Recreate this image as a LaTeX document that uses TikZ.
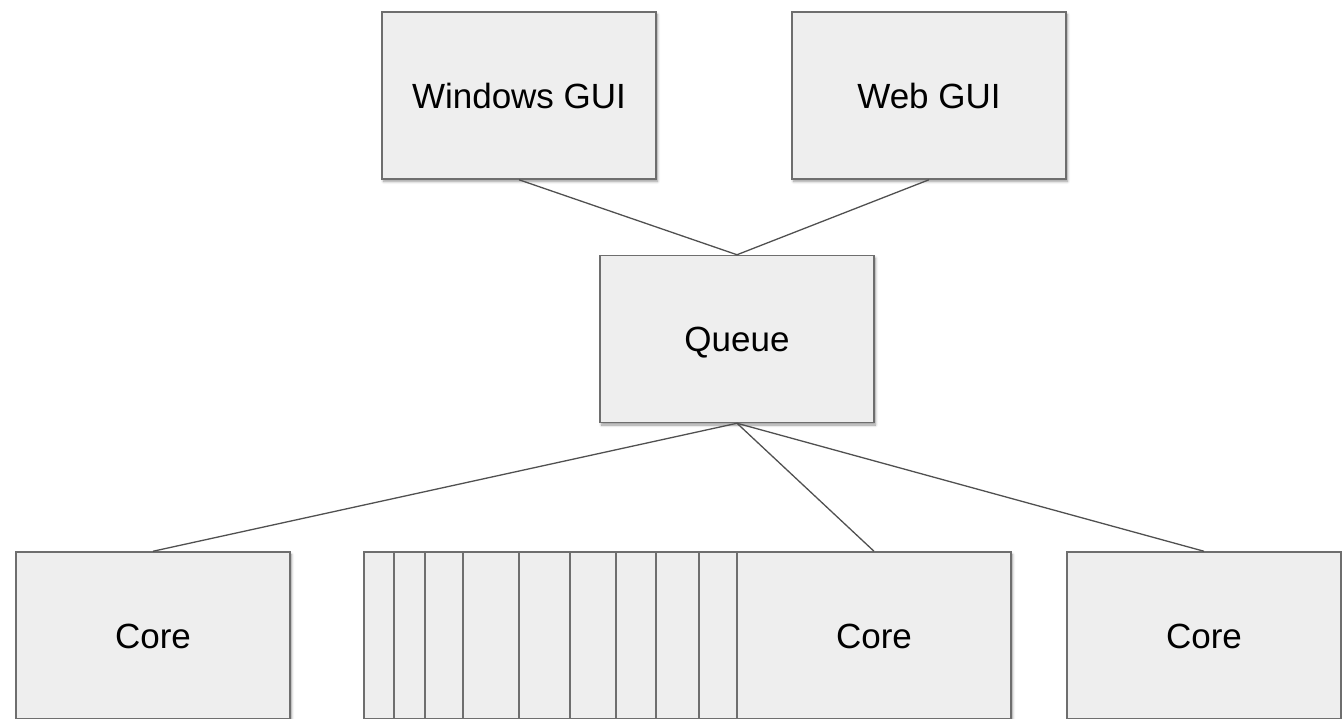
\documentclass[tikz,border=0pt]{standalone}
\usepackage{fontspec}
\setmainfont{Liberation Sans}
\usetikzlibrary{shadows.blur}
\definecolor{boxfill}{HTML}{EEEEEE}
\definecolor{boxline}{HTML}{6E6E6E}
\definecolor{linkline}{HTML}{505050}
\begin{document}
\begin{tikzpicture}[x=1pt,y=-1pt,
  boxnode/.style={draw=boxline, line width=1.5pt, fill=boxfill,
    minimum width=274pt, minimum height=167pt, inner sep=0pt,
    text height=25pt, text depth=0pt,
    font=\fontsize{35}{40}\selectfont,
    blur shadow={shadow xshift=1.5pt, shadow yshift=-2.5pt, shadow blur steps=6, shadow blur radius=2.5pt, shadow opacity=40}},
  link/.style={draw=linkline, line width=1.3pt}]
\useasboundingbox (0,0) rectangle (1342,718);
\clip (0,0) rectangle (1342,718);
\node[boxnode] (win) at (519,95.5) {Windows GUI};
\node[boxnode] (web) at (929,95.5) {Web GUI};
\node[boxnode] (queue) at (737,339) {Queue};
\node[boxnode] (coreA) at (153,635.5) {Core};
\node[boxnode] (s1) at (501,635.5) {};
\node[boxnode] (s2) at (531,635.5) {};
\node[boxnode] (s3) at (562,635.5) {};
\node[boxnode] (s4) at (600,635.5) {};
\node[boxnode] (s5) at (656,635.5) {};
\node[boxnode] (s6) at (707,635.5) {};
\node[boxnode] (s7) at (753,635.5) {};
\node[boxnode] (s8) at (793,635.5) {};
\node[boxnode] (s9) at (836,635.5) {};
\node[boxnode] (coreB) at (874,635.5) {Core};
\node[boxnode] (coreC) at (1204,635.5) {Core};
\draw[link] (win.south) -- (queue.north);
\draw[link] (web.south) -- (queue.north);
\draw[link] (queue.south) -- (coreA.north);
\draw[link] (queue.south) -- (coreB.north);
\draw[link] (queue.south) -- (coreC.north);
\end{tikzpicture}
\end{document}
